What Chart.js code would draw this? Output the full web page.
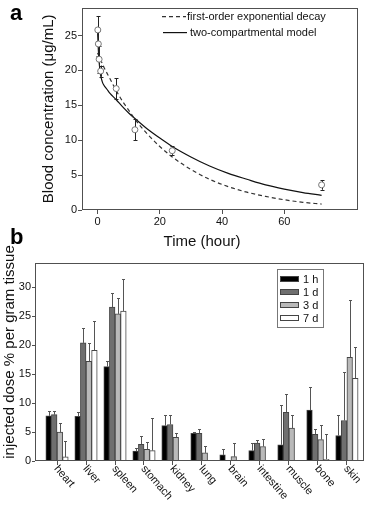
<!DOCTYPE html>
<html><head><meta charset="utf-8">
<script src="https://cdn.jsdelivr.net/npm/chart.js@4.4.0/dist/chart.umd.min.js"></script>
<style>
html,body{margin:0;padding:0;background:#fff;}
#wrap{position:relative;width:372px;height:506px;overflow:hidden;font-family:"Liberation Sans",Arial,sans-serif;}
canvas{position:absolute;left:0;}
#ca{top:0;}
#cb{top:230px;}
.lab{position:absolute;font-weight:bold;font-size:22px;line-height:22px;color:#000;}
</style></head><body>
<div id="wrap">
<canvas id="ca" width="372" height="250"></canvas>
<canvas id="cb" width="372" height="276"></canvas>
<div class="lab" style="left:10px;top:2px;">a</div>
<div class="lab" style="left:10px;top:226px;">b</div>
</div>
<script>
// ---------- Panel a data ----------
const tObs = [0.08, 0.25, 0.5, 1, 6, 12, 24, 72];
const cObs = [25.8, 23.8, 21.6, 19.9, 17.4, 11.5, 8.5, 3.6];
const eObs = [2.0, 1.8, 1.9, 0.8, 1.5, 1.5, 0.6, 0.7];
const tExp = [0, 1, 2, 4, 6, 8, 10, 12, 16, 20, 24, 30, 36, 42, 48, 54, 60, 66, 72];
const cExp = [22.5, 21.5, 20.5, 18.8, 17.1, 15.6, 14.3, 13.0, 10.9, 9.1, 7.6, 5.8, 4.4, 3.35, 2.55, 1.95, 1.47, 1.1, 0.85];
const tTwo = [0, 0.25, 0.5, 1, 1.5, 2, 3, 4, 6, 8, 10, 12, 16, 20, 24, 30, 36, 42, 48, 54, 60, 66, 72];
const cTwo = [25.7, 23.0, 21.2, 19.3, 18.4, 17.9, 17.3, 16.7, 15.8, 14.8, 13.9, 13.1, 11.6, 10.3, 9.1, 7.6, 6.3, 5.25, 4.4, 3.6, 3.0, 2.5, 2.1];
const xTicksA = [0, 20, 40, 60];
const yTicksA = [0, 5, 10, 15, 20, 25];

// ---------- Panel b data ----------
const organs = ['heart','liver','spleen','stomach','kidney','lung','brain','intestine','muscle','bone','skin'];
const seriesNames = ['1 h','1 d','3 d','7 d'];
const v1h = [7.8, 7.7, 16.3, 1.7, 6.1, 4.8, 1.05, 1.8, 2.8, 8.8, 4.4];
const e1h = [0.8, 0.7, 0.9, 0.6, 1.8, 0.2, 1.0, 1.35, 6.8, 4.0, 3.6];
const v1d = [8.0, 20.4, 26.6, 2.9, 6.3, 4.8, null, 3.1, 8.4, 4.6, 7.0];
const e1d = [0.6, 2.5, 2.4, 1.5, 1.6, 0.8, null, 0.5, 3.2, 1.0, 8.4];
const v3d = [5.0, 17.2, 25.4, 2.0, 4.1, 1.4, 0.75, 2.5, 5.7, 3.7, 17.9];
const e3d = [1.6, 3.2, 2.8, 1.2, 0.7, 1.2, 2.4, 1.35, 2.2, 2.5, 9.9];
const v7d = [0.7, 19.1, 25.9, 1.8, null, null, null, null, null, 0.3, 14.3];
const e7d = [2.7, 5.0, 5.6, 5.7, null, null, null, null, null, 4.3, 5.4];
const yTicksB = [0, 5, 10, 15, 20, 25, 30];

const FONT = '"Liberation Sans", Arial, sans-serif';
const AXIS = '#505050';
const TXT = '#111';

function frameRect(chart){
  const {ctx, chartArea:a} = chart;
  ctx.save();
  ctx.strokeStyle = AXIS; ctx.lineWidth = 1;
  ctx.strokeRect(Math.round(a.left)+0.5, Math.round(a.top)+0.5, Math.round(a.right-a.left)-1, Math.round(a.bottom-a.top)-1);
  ctx.restore();
}

// ---------- Chart a ----------
const pluginA = {
  id:'panelA',
  beforeDatasetDraw(chart, args){
    if (args.index !== 0) return;
    const {ctx} = chart; const xs = chart.scales.x, ys = chart.scales.y;
    ctx.save(); ctx.strokeStyle = '#222'; ctx.lineWidth = 1;
    tObs.forEach((t,i)=>{
      const x = Math.round(xs.getPixelForValue(t))+0.5;
      const y1 = ys.getPixelForValue(cObs[i]-eObs[i]), y2 = ys.getPixelForValue(cObs[i]+eObs[i]);
      ctx.beginPath(); ctx.moveTo(x,y1); ctx.lineTo(x,y2);
      ctx.moveTo(x-2,Math.round(y1)+0.5); ctx.lineTo(x+2,Math.round(y1)+0.5);
      ctx.moveTo(x-2,Math.round(y2)+0.5); ctx.lineTo(x+2,Math.round(y2)+0.5);
      ctx.stroke();
    });
    ctx.restore();
  },
  afterDraw(chart){
    frameRect(chart);
    const {ctx, chartArea:a} = chart;
    ctx.save();
    ctx.font = '11px ' + FONT; ctx.fillStyle = TXT; ctx.textBaseline = 'middle'; ctx.textAlign = 'left';
    const ds = chart.data.datasets;
    const rows = [{d:ds[1], y:a.top+9, lx:a.left+80, tx:a.left+105},{d:ds[2], y:a.top+25, lx:a.left+81, tx:a.left+108}];
    rows.forEach(r=>{
      ctx.save(); ctx.strokeStyle = r.d.borderColor; ctx.lineWidth = r.d.borderWidth;
      ctx.setLineDash(r.d.borderDash || []);
      ctx.beginPath(); ctx.moveTo(r.lx, r.y); ctx.lineTo(r.lx+24, r.y); ctx.stroke(); ctx.restore();
      ctx.fillText(r.d.label, r.tx, r.y+0.5);
    });
    ctx.font = '15px ' + FONT; ctx.textAlign = 'center';
    ctx.fillText('Time (hour)', a.left+120, 242);
    ctx.restore();
  }
};

new Chart(document.getElementById('ca'), {
  type:'line',
  data:{datasets:[
    {label:'measured', type:'scatter', data:tObs.map((t,i)=>({x:t,y:cObs[i]})), pointRadius:3, pointBackgroundColor:'#fff', pointBorderColor:'#777', pointBorderWidth:1, showLine:false, order:0},
    {label:'first-order exponential decay', data:tExp.map((t,i)=>({x:t,y:cExp[i]})), borderColor:'#333', borderWidth:1.2, borderDash:[4,3], pointRadius:0, cubicInterpolationMode:'monotone', fill:false, order:1},
    {label:'two-compartmental model', data:tTwo.map((t,i)=>({x:t,y:cTwo[i]})), borderColor:'#111', borderWidth:1.2, pointRadius:0, cubicInterpolationMode:'monotone', fill:false, order:2}
  ]},
  options:{
    responsive:false, animation:false, events:[],
    layout:{padding:{left:0,right:14,top:7,bottom:0}},
    plugins:{legend:{display:false}, tooltip:{enabled:false}},
    scales:{
      x:{type:'linear', min:-5, max:83.7,
        afterBuildTicks(s){ s.ticks = xTicksA.map(v=>({value:v})); },
        afterFit(s){ s.height = 40; },
        grid:{drawOnChartArea:false, drawTicks:true, tickLength:4, color:AXIS},
        border:{display:false},
        ticks:{font:{family:FONT,size:11}, color:TXT, padding:1, maxRotation:0}},
      y:{type:'linear', min:0, max:29,
        afterBuildTicks(s){ s.ticks = yTicksA.map(v=>({value:v})); },
        afterFit(s){ s.width = 82; },
        grid:{drawOnChartArea:false, drawTicks:true, tickLength:4, color:AXIS},
        border:{display:false},
        ticks:{font:{family:FONT,size:11}, color:TXT, padding:1},
        title:{display:true, text:'Blood concentration (μg/mL)', font:{family:FONT,size:15}, color:TXT, padding:{top:40,bottom:0}}}
    }
  },
  plugins:[pluginA]
});

// ---------- Chart b ----------
const fills = ['#000000','#6f6f6f','#b9b9b9','#ffffff'];
const vals = [v1h, v1d, v3d, v7d];
const errs = [e1h, e1d, e3d, e7d];

const pluginB = {
  id:'panelB',
  afterDatasetsDraw(chart){
    const {ctx} = chart; const ys = chart.scales.y;
    ctx.save(); ctx.strokeStyle = '#555'; ctx.lineWidth = 1;
    chart.data.datasets.forEach((d,di)=>{
      const meta = chart.getDatasetMeta(di);
      meta.data.forEach((el,j)=>{
        const v = vals[di][j], e = errs[di][j];
        if (v == null || e == null) return;
        const x = Math.round(el.x)+0.5;
        const y2 = Math.round(ys.getPixelForValue(v+e))+0.5;
        ctx.beginPath(); ctx.moveTo(x, el.y); ctx.lineTo(x, y2);
        ctx.moveTo(x-1.5, y2); ctx.lineTo(x+1.5, y2); ctx.stroke();
      });
    });
    ctx.restore();
  },
  afterDraw(chart){
    frameRect(chart);
    const {ctx, chartArea:a} = chart; const xs = chart.scales.x;
    ctx.save();
    // y-axis title (sits slightly above the plot centre, as in the figure)
    ctx.save();
    ctx.font = '15px ' + FONT; ctx.fillStyle = TXT; ctx.textAlign = 'center'; ctx.textBaseline = 'middle';
    ctx.translate(10, (a.top+a.bottom)/2 - 10); ctx.rotate(-Math.PI/2);
    ctx.fillText('injected dose % per gram tissue', 0, 0);
    ctx.restore();
    // category labels (rotated clockwise)
    ctx.font = '11px ' + FONT; ctx.fillStyle = TXT; ctx.textAlign = 'left'; ctx.textBaseline = 'middle';
    organs.forEach((o,i)=>{
      const x = xs.getPixelForValue(i);
      ctx.save(); ctx.translate(x-1, a.bottom+6); ctx.rotate(49*Math.PI/180);
      ctx.fillText(o, 0, 0); ctx.restore();
    });
    // legend box
    const bx = a.right-87, by = a.top+6;
    ctx.strokeStyle = '#777'; ctx.lineWidth = 1;
    ctx.strokeRect(Math.round(bx)+0.5, Math.round(by)+0.5, 46, 58);
    chart.data.datasets.forEach((d,di)=>{
      const cy = by + 10 + di*13;
      ctx.fillStyle = d.backgroundColor; ctx.strokeStyle = d.borderColor;
      ctx.fillRect(bx+3, cy-3, 19, 6);
      ctx.strokeRect(bx+3.5, cy-2.5, 18, 5);
      ctx.fillStyle = TXT; ctx.textAlign = 'left'; ctx.textBaseline = 'middle';
      ctx.fillText(d.label, bx+26, cy+0.5);
    });
    ctx.restore();
  }
};

new Chart(document.getElementById('cb'), {
  type:'bar',
  data:{datasets: seriesNames.map((n,di)=>({
    label:n,
    data: organs.map((o,i)=>({x:i, y:vals[di][i]})),
    backgroundColor: fills[di], borderColor:'#444', borderWidth:1,
    barThickness:5.6
  }))},
  options:{
    responsive:false, animation:false, events:[],
    layout:{padding:{left:0,right:8,top:33,bottom:0}},
    plugins:{legend:{display:false}, tooltip:{enabled:false}},
    scales:{
      x:{type:'linear', min:-0.76, max:10.59, offset:false,
        afterBuildTicks(s){ s.ticks = organs.map((o,i)=>({value:i})); },
        afterFit(s){ s.height = 45; },
        grid:{drawOnChartArea:false, drawTicks:true, tickLength:4, color:AXIS, offset:false},
        border:{display:false},
        ticks:{callback:()=> '', autoSkip:false, maxRotation:0, font:{family:FONT,size:11}}},
      y:{type:'linear', min:0, max:34.2,
        afterBuildTicks(s){ s.ticks = yTicksB.map(v=>({value:v})); },
        afterFit(s){ s.width = 35; },
        grid:{drawOnChartArea:false, drawTicks:true, tickLength:3, color:AXIS},
        border:{display:false},
        ticks:{font:{family:FONT,size:11}, color:TXT, padding:1}}
    }
  },
  plugins:[pluginB]
});
</script>
</body></html>
